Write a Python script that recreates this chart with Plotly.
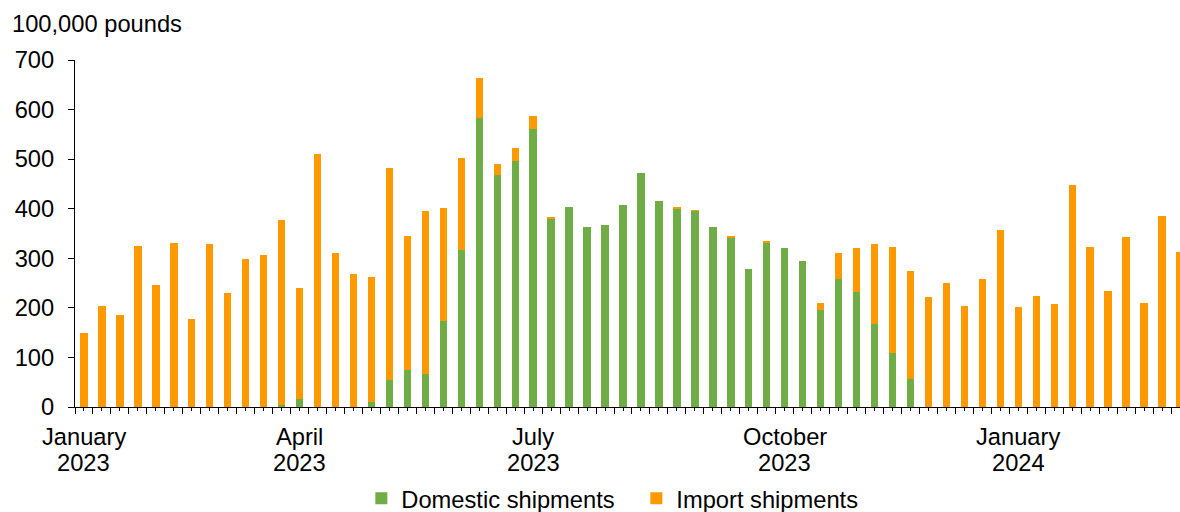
import plotly.graph_objects as go

# Weekly index (Jan 2023 .. Mar 2024), 62 weeks
weeks = list(range(62))

domestic = [0, 0, 0, 0, 0, 0, 0, 0, 0, 0,
            0, 4, 17, 0, 0, 0, 11, 55, 75, 67,
            174, 316, 584, 468, 497, 560, 380, 404, 363, 367,
            408, 472, 415, 401, 396, 363, 342, 278, 331, 320,
            294, 196, 258, 233, 167, 108, 56, 0, 0, 0,
            0, 0, 0, 0, 0, 0, 0, 0, 0, 0,
            0, 0]

imports = [150, 203, 186, 325, 247, 331, 177, 329, 230, 299,
           306, 374, 224, 510, 310, 269, 252, 427, 269, 328,
           227, 186, 80, 23, 25, 27, 3, 0, 0, 0,
           0, 0, 0, 2, 1, 0, 1, 0, 2, 0,
           0, 13, 53, 87, 161, 215, 219, 221, 251, 204,
           259, 357, 201, 223, 208, 448, 322, 235, 342, 210,
           386, 313]

label_weeks = [0, 12, 25, 39, 52]
label_months = ["January", "April", "July", "October", "January"]
label_years = ["2023", "2023", "2023", "2023", "2024"]

y_ticks = [0, 100, 200, 300, 400, 500, 600, 700]

FONT = "Arial, Liberation Sans, sans-serif"
FS = 23.7
GREEN = "#70AD47"
ORANGE = "#FF9900"

fig = go.Figure()
fig.add_trace(go.Bar(x=weeks, y=domestic, name="Domestic shipments",
                     marker=dict(color=GREEN, line=dict(width=0)), width=0.41))
fig.add_trace(go.Bar(x=weeks, y=imports, name="Import shipments",
                     marker=dict(color=ORANGE, line=dict(width=0)), width=0.41))

H_PLOT_TOP = 60
H_PLOT_BOT = 406.7
ph = H_PLOT_BOT - H_PLOT_TOP

def py(pix):
    return (H_PLOT_BOT - pix) / ph

annotations = []
for w, m, yr in zip(label_weeks, label_months, label_years):
    annotations.append(dict(x=w, y=py(437), xref="x", yref="paper", text=m,
                            showarrow=False, xanchor="center", yanchor="middle",
                            font=dict(family=FONT, size=FS, color="black")))
    annotations.append(dict(x=w, y=py(463), xref="x", yref="paper", text=yr,
                            showarrow=False, xanchor="center", yanchor="middle",
                            font=dict(family=FONT, size=FS, color="black")))
annotations.append(dict(x=(10 - 75) / 1105, y=py(24), xref="paper", yref="paper",
                        text="100,000 pounds", showarrow=False, xanchor="left",
                        yanchor="middle", font=dict(family=FONT, size=FS, color="black")))

fig.update_layout(
    width=1180, height=512,
    margin=dict(l=75, r=0, t=H_PLOT_TOP, b=512 - H_PLOT_BOT, pad=0, autoexpand=False),
    barmode="stack",
    plot_bgcolor="white", paper_bgcolor="white",
    font=dict(family=FONT, size=FS, color="black"),
    showlegend=True,
    legend=dict(orientation="h", x=0.508, xanchor="center", y=py(476), yanchor="top",
                font=dict(family=FONT, size=FS, color="black"),
                traceorder="normal", itemwidth=30, bgcolor="rgba(0,0,0,0)",
                entrywidth=230, entrywidthmode="pixels"),
    annotations=annotations,
    xaxis=dict(range=[-0.5, 61.0], showgrid=False, zeroline=False,
               showline=True, linecolor="black", linewidth=1.2,
               tickmode="linear", tick0=-0.5, dtick=1, ticks="outside",
               ticklen=6, tickwidth=1.2, tickcolor="black", showticklabels=False,
               minor=dict(tickmode="linear", tick0=0, dtick=1, ticks="outside",
                          ticklen=3, tickwidth=1.2, tickcolor="black")),
    yaxis=dict(range=[0, 700], tickvals=y_ticks, showgrid=False, zeroline=False,
               showline=True, linecolor="black", linewidth=1.2,
               ticks="outside", ticklen=6, tickwidth=1.2, tickcolor="black",
               tickfont=dict(family=FONT, size=FS, color="black"),
               ticklabelstandoff=9),
)

fig.write_html("out.html")
